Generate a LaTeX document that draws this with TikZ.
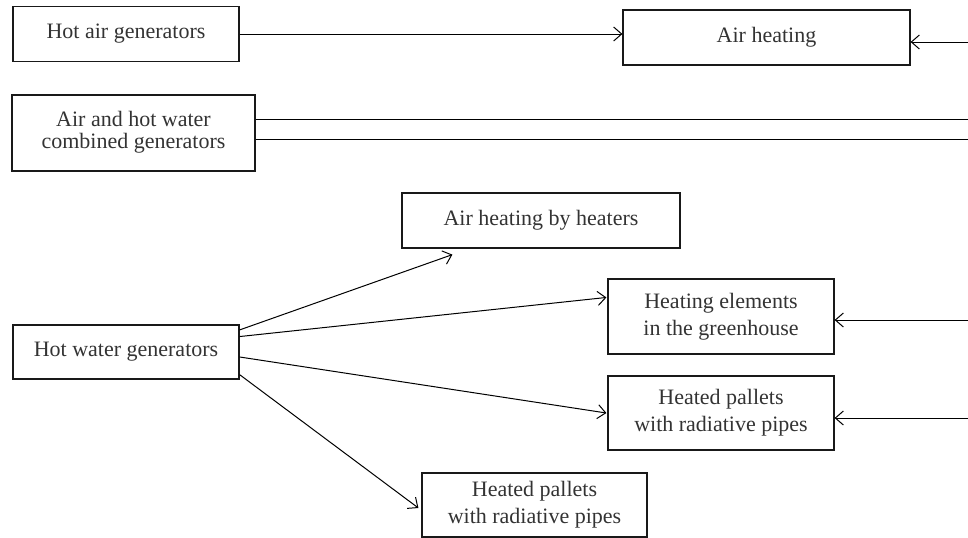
\documentclass[tikz,border=0pt]{standalone}
\usepackage{fontspec}
\setmainfont{Liberation Serif}
\usetikzlibrary{calc,arrows.meta}
\newcommand{\twol}[3][1.125]{{\renewcommand{\arraystretch}{#1}\begin{tabular}{@{}c@{}}#2\\#3\end{tabular}}}

\begin{document}
\begin{tikzpicture}[x=0.5pt,y=-0.5pt,
    box/.style 2 args={draw=black!90, line width=0.6pt, inner sep=0pt, text=black!80,
                       font=\fontsize{11}{12}\selectfont, minimum width=#1, minimum height=#2},
    arr/.style={-{Straight Barb[length=4pt,width=7pt]}, line width=0.5pt},
    plain/.style={line width=0.5pt}]
  \useasboundingbox (0,0) rectangle (968,537);
  % generators
  \node[box={113pt}{27.5pt}] (hag) at (126,34) {Hot air generators};
  \node[box={121.5pt}{38pt}] (comb) at (133.5,133) {\twol[0.9]{Air and hot water}{combined generators}};
  \node[box={113pt}{27pt}] (hwg) at (126,352) {Hot water generators};
  % heating systems
  \node[box={143.5pt}{27.5pt}] (airheat) at (766.5,37.5) {Air heating};
  \node[box={139pt}{27.5pt}] (heaters) at (541,220.5) {Air heating by heaters};
  \node[box={113pt}{37.5pt}] (elements) at (721,316.5) {\twol{Heating elements}{in the greenhouse}};
  \node[box={113pt}{37pt}] (pallets) at (721,413) {\twol{Heated pallets}{with radiative pipes}};
  \node[box={112.5pt}{32pt}] (pallets2) at (534.5,505) {\twol{Heated pallets}{with radiative pipes}};
  % lines leaving the picture on the right
  \coordinate (r1) at (968,42);
  \coordinate (r2) at (968,119);
  \coordinate (r3) at (968,139);
  \coordinate (r4) at (968,320);
  \coordinate (r5) at (968,418);

  \draw[arr] (hag.east) -- (hag.east -| airheat.west);
  \draw[arr] (r1) -- (r1 -| airheat.east);
  \draw[plain] (r2 -| comb.east) -- (r2);
  \draw[plain] (r3 -| comb.east) -- (r3);
  \draw[arr] (r4) -- (r4 -| elements.east);
  \draw[arr] (r5) -- (r5 -| pallets.east);

  \draw[arr] ($(hwg.north east)!0.1!(hwg.south east)$) -- ($(heaters.south west)+(51,6)$);
  \draw[arr] ($(hwg.north east)!0.22!(hwg.south east)$) -- ($(elements.north west)!0.25!(elements.south west)+(-1,0)$);
  \draw[arr] ($(hwg.north east)!0.59!(hwg.south east)$) -- ($(pallets.west)+(-1,0)$);
  \draw[arr] ($(hwg.north east)!0.91!(hwg.south east)$) -- ($(pallets2.west)+(-3,3)$);
\end{tikzpicture}
\end{document}
